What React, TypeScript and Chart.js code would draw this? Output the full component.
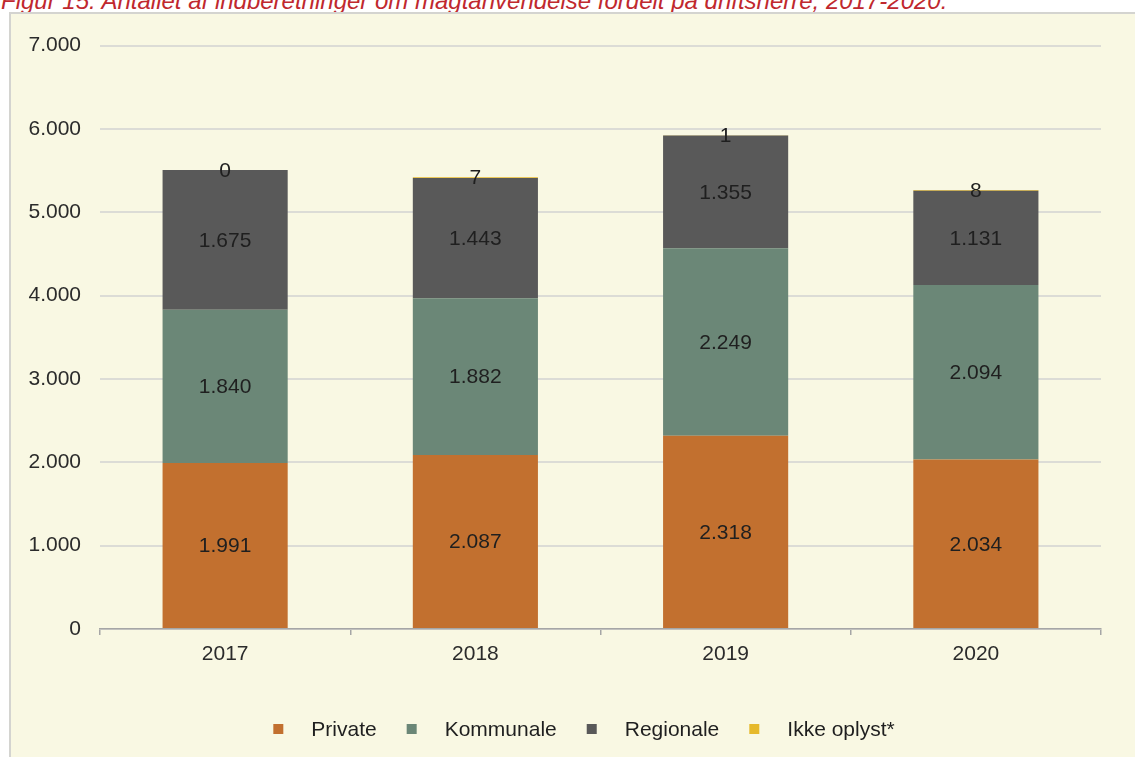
import React, { useEffect, useRef } from "react";
import { Chart, registerables } from "chart.js";

Chart.register(...registerables);

const TITLE = "Figur 15: Antallet af indberetninger om magtanvendelse fordelt på driftsherre, 2017-2020.";
const categories = ["2017", "2018", "2019", "2020"];
const seriesNames = ["Private", "Kommunale", "Regionale", "Ikke oplyst*"];
const privateValues = [1991, 2087, 2318, 2034];
const kommunaleValues = [1840, 1882, 2249, 2094];
const regionaleValues = [1675, 1443, 1355, 1131];
const ikkeOplystValues = [0, 7, 1, 8];
const seriesColors = ["#c2702f", "#6b8777", "#595959", "#e6b92b"];
const yTicks = [0, 1000, 2000, 3000, 4000, 5000, 6000, 7000];

const FONT = "'Liberation Sans', Arial, sans-serif";
const FS = 21;

function fmt(v: number): string {
  return String(v).replace(/\B(?=(\d{3})+(?!\d))/g, ".");
}

const valueLabels = {
  id: "valueLabels",
  afterDatasetsDraw(chart: any) {
    const ctx = chart.ctx;
    ctx.save();
    ctx.font = `${FS}px ${FONT}`;
    ctx.fillStyle = "#1f1f1f";
    ctx.textAlign = "center";
    ctx.textBaseline = "middle";
    chart.data.datasets.forEach((ds: any, di: number) => {
      const meta = chart.getDatasetMeta(di);
      meta.data.forEach((el: any, i: number) => {
        const p = el.getProps(["x", "y", "base"], true);
        const cy = (p.y + p.base) / 2;
        ctx.fillText(fmt(ds.data[i]), p.x, cy + 1);
      });
    });
    ctx.restore();
  },
};

const customLegend = {
  id: "customLegend",
  afterDraw(chart: any) {
    const ctx = chart.ctx;
    ctx.save();
    ctx.font = `${FS}px ${FONT}`;
    const box = 10;
    const gapText = 28;
    const gapItem = 30;
    const items = chart.data.datasets.map((ds: any) => ({
      label: ds.label,
      color: ds.backgroundColor,
      w: ctx.measureText(ds.label).width,
    }));
    const total =
      items.reduce((s: number, it: any) => s + box + gapText + it.w, 0) +
      gapItem * (items.length - 1);
    let x = chart.width / 2 + 11 - total / 2;
    const y = chart.chartArea.bottom + 100;
    ctx.textBaseline = "middle";
    ctx.textAlign = "left";
    items.forEach((it: any) => {
      ctx.fillStyle = it.color;
      ctx.fillRect(x, y - box / 2, box, box);
      ctx.fillStyle = "#1f1f1f";
      ctx.fillText(it.label, x + box + gapText, y + 1);
      x += box + gapText + it.w + gapItem;
    });
    ctx.restore();
  },
};

export default function App() {
  const ref = useRef<HTMLCanvasElement | null>(null);

  useEffect(() => {
    if (!ref.current) return;
    const values = [privateValues, kommunaleValues, regionaleValues, ikkeOplystValues];
    const chart = new Chart(ref.current, {
      type: "bar",
      data: {
        labels: categories,
        datasets: seriesNames.map((name, i) => ({
          label: name,
          data: values[i],
          backgroundColor: seriesColors[i],
          borderWidth: 0,
          barPercentage: 1,
          categoryPercentage: 0.5,
        })),
      },
      options: {
        animation: false,
        responsive: false,
        layout: { padding: { left: 0, right: 34, top: 28, bottom: 0 } },
        plugins: {
          legend: { display: false },
          tooltip: { enabled: false },
          title: { display: false },
        },
        scales: {
          x: {
            stacked: true,
            offset: true,
            grid: {
              offset: true,
              drawOnChartArea: false,
              drawTicks: true,
              tickLength: 6,
              color: "#a6a6a6",
              lineWidth: 1.5,
            },
            border: { display: true, color: "#a6a6a6", width: 1.5 },
            ticks: {
              color: "#2b2b2b",
              font: { family: FONT, size: FS },
              padding: 7,
            },
            afterFit(scale: any) {
              scale.height = 128;
            },
          },
          y: {
            stacked: true,
            min: 0,
            max: 7000,
            afterBuildTicks(scale: any) {
              scale.ticks = yTicks.map((v) => ({ value: v }));
            },
            grid: {
              color: "#dcdcd6",
              lineWidth: 2,
              drawTicks: false,
            },
            border: { display: false },
            ticks: {
              color: "#2b2b2b",
              font: { family: FONT, size: FS },
              padding: 19,
              callback: (v: any) => fmt(Number(v)),
            },
            afterFit(scale: any) {
              scale.width = 89;
            },
          },
        },
      },
      plugins: [valueLabels, customLegend],
    });
    return () => chart.destroy();
  }, []);

  return (
    <div style={{ position: "fixed", inset: 0, overflow: "hidden", background: "#ffffff" }}>
      <div
        style={{
          position: "absolute",
          left: 1,
          top: -12,
          whiteSpace: "nowrap",
          fontFamily: FONT,
          fontStyle: "italic",
          fontSize: 24,
          color: "#c0282e",
          lineHeight: "26px",
        }}
      >
        {TITLE}
      </div>
      <div
        style={{
          position: "absolute",
          left: 9,
          top: 12,
          right: 0,
          bottom: 0,
          borderLeft: "2px solid #d4d4d0",
          borderTop: "2px solid #d4d4d0",
          background: "#f9f8e3",
        }}
      >
        <canvas ref={ref} width={1124} height={743} style={{ display: "block" }} />
      </div>
    </div>
  );
}
